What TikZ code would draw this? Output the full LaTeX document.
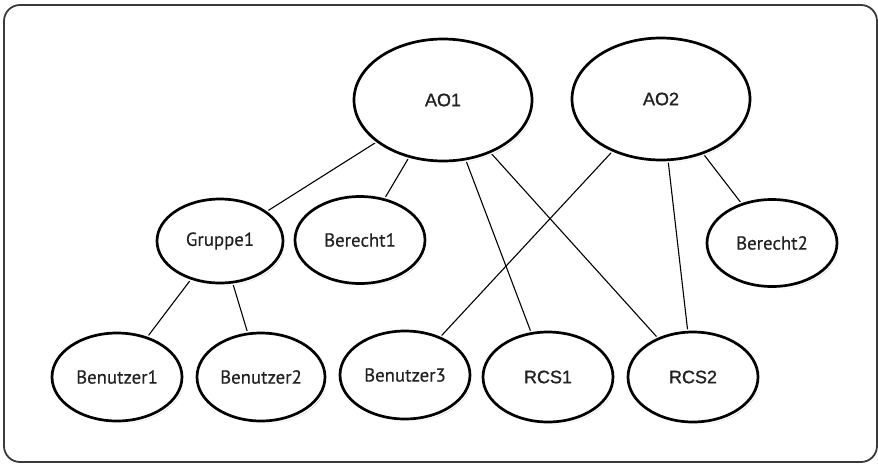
\documentclass[tikz,border=0pt]{standalone}
\usepackage{fontspec}
\newfontfamily\humfont[FakeBold=0.4]{PT Sans}
\newfontfamily\arfont[FakeBold=1.2]{Liberation Sans}
\usetikzlibrary{shapes.geometric,shadows,backgrounds}
\definecolor{framegray}{HTML}{3A3A3A}
\definecolor{txtgray}{HTML}{222222}
\tikzset{
  x=1pt, y=-1pt,
  obj/.style={ellipse, inner sep=0pt, fill=white, draw=black, line width=2.7pt,
    drop shadow={shadow xshift=2pt, shadow yshift=-2.5pt, opacity=0.25, fill=black},
    preaction={draw=white, line width=5.7pt},
    text=txtgray},
  humlab/.style={font=\humfont\fontsize{18.8}{22}\selectfont},
  arlab/.style={font=\arfont\fontsize{18}{22}\selectfont},
  big/.style={minimum width=178pt, minimum height=122pt},
  mid/.style={minimum width=130pt, minimum height=87pt},
  link/.style={draw=black, line width=1.1pt},
}
\begin{document}
\begin{tikzpicture}
\useasboundingbox (0,0) rectangle (878,464);
\node[obj,big,arlab] (ao1) at (443,100) {AO1};
\node[obj,big,arlab] (ao2) at (661,99) {AO2};
\node[obj,humlab,minimum width=126pt,minimum height=84pt] (g1) at (220,241) {Gruppe1};
\node[obj,humlab,mid] (b1) at (360,240) {Berecht1};
\node[obj,humlab,mid] (b2) at (772,243) {Berecht2};
\node[obj,humlab,mid,minimum height=88pt] (u1) at (117,377) {Benutzer1};
\node[obj,humlab,mid,minimum width=128pt,minimum height=88pt] (u2) at (261,377) {Benutzer2};
\node[obj,humlab,mid,minimum height=88pt] (u3) at (405,375) {Benutzer3};
\node[obj,arlab,mid,minimum height=90pt] (r1) at (548,377) {RCS1};
\node[obj,arlab,mid,minimum height=90pt] (r2) at (693,377) {RCS2};
\begin{scope}[on background layer]
\coordinate (tl) at (4,5);
\coordinate (br) at (877,462);
\draw[framegray, line width=1.8pt, rounded corners=16pt] (tl) rectangle (br);
\draw[link] (ao1) -- (g1);
\draw[link] (ao1) -- (b1);
\draw[link] (ao1) -- (r1);
\draw[link] (ao1) -- (r2);
\draw[link] (ao2) -- (u3);
\draw[link] (ao2) -- (r2);
\draw[link] (ao2) -- (b2);
\draw[link] (g1) -- (u1);
\draw[link] (g1) -- (u2);
\end{scope}
\end{tikzpicture}
\end{document}
